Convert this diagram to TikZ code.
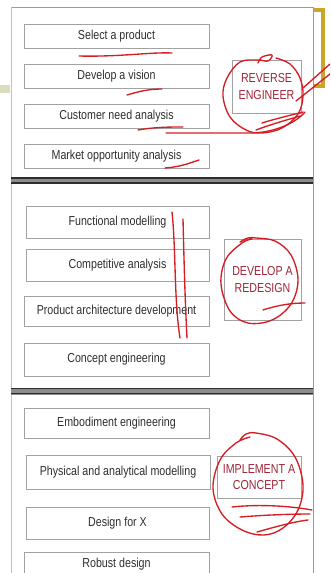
\documentclass[tikz,border=0pt]{standalone}
\usepackage{fontspec}
\setmainfont[FakeStretch=0.82]{Liberation Sans}
\begin{document}
\begin{tikzpicture}[x=1pt,y=-1pt,
  box/.style={draw=boxgray,line width=1pt,minimum width=185pt,inner sep=0pt,
    text=txtgray,font=\fontsize{13}{16.5}\selectfont},
  tag/.style={draw=boxgray,line width=0.9pt,inner sep=0pt,align=center,
    text=tagred,font=\fontsize{13}{16.5}\selectfont},
  ink/.style={draw=inkred,line width=1.35pt,line cap=round,line join=round},
  sep/.style={fill=sepgray,draw=none}]
\definecolor{boxgray}{HTML}{A2A2A2}
\definecolor{txtgray}{HTML}{2E2E2E}
\definecolor{tagred}{HTML}{9E2438}
\definecolor{inkred}{HTML}{D41E24}
\definecolor{sepgray}{HTML}{8C8C8C}
\definecolor{sepdark}{HTML}{2E2E2E}
\definecolor{framegray}{HTML}{9A9A9A}
\definecolor{gold}{HTML}{C9A62A}
\definecolor{olive}{HTML}{DCDCBE}
\useasboundingbox (0,0) rectangle (330,573);
\begin{scope}
\clip (0,0) rectangle (330,573);

% outer frame
\draw[framegray,line width=0.9pt] (11,573) -- (11,7) -- (313,7) -- (313,573);
\draw[framegray!60,line width=0.9pt] (11,7) -- (11,573);

% side decorations
\fill[olive] (0,85) rectangle (10,93);
\fill[gold] (314,8) rectangle (325,12);
\fill[gold] (321,8) rectangle (325,88);
\fill[gold] (314,84) rectangle (325,88);

% double separators between the three stages
\foreach \y in {177,387.5}{
  \fill[sepgray] (11,\y) rectangle (313,\y+7);
  \draw[sepdark,line width=1.5pt] (11,\y+1.2) -- (313,\y+1.2);
  \draw[sepdark,line width=1.5pt] (11,\y+5.8) -- (313,\y+5.8);
}

% stage 1
\node[box,minimum height=24pt] (b1) at (116.5,36) {Select a product};
\node[box,minimum height=24pt] (b2) at (116.5,76) {Develop a vision};
\node[box,minimum height=24pt] (b3) at (116.5,116) {Customer need analysis};
\node[box,minimum height=24pt] (b4) at (116.5,156) {Market opportunity analysis};
\node[tag,minimum width=69pt,minimum height=53pt] (r1) at (266.5,86.5) {REVERSE\\ENGINEER};

% stage 2
\node[box,minimum width=183pt,minimum height=32pt] (b5) at (117.5,222) {Functional modelling};
\node[box,minimum width=183pt,minimum height=32pt] (b6) at (117.5,265) {Competitive analysis};
\node[box,minimum height=30pt] (b7) at (116.5,311) {Product architecture development};
\node[box,minimum height=33pt] (b8) at (116.5,359.5) {Concept engineering};
\node[tag,minimum width=77pt,minimum height=81pt] (r2) at (262.5,279.5) {DEVELOP A\\REDESIGN};

% stage 3
\node[box,minimum height=30pt] (b9) at (116.5,423) {Embodiment engineering};
\node[box,minimum width=184pt,minimum height=34pt] (b10) at (118,472) {Physical and analytical modelling};
\node[box,minimum width=183pt,minimum height=32pt] (b11) at (117.5,523) {Design for X};
\node[box,minimum height=24pt,anchor=north] (b12) at (116.5,552) {};
\node[text=txtgray,font=\fontsize{13}{16.5}\selectfont] (b12t) at (116.5,564) {Robust design};
\node[tag,minimum width=84pt,minimum height=42pt] (r3) at (259,477) {IMPLEMENT A\\CONCEPT};

% pen marks, stage 1
\draw[ink] (79,56) .. controls (120,57) and (150,52) .. (172,53);
\draw[ink] (127,95) .. controls (140,91) and (150,89) .. (162,89);
\draw[ink] (138,130) .. controls (155,127) and (170,127) .. (183,127);
\draw[ink] (165,168) .. controls (180,167) and (190,163) .. (199,160);
\draw[ink] (166,133) -- (250,133) .. controls (272,133) and (295,124) .. (305,112);
\draw[ink] plot[smooth,tension=0.6] coordinates {(258,63) (262,57) (272,55) (268,61) (258,60)
  (240,62) (227,78) (223,96) (230,117) (246,130) (262,133) (282,128) (298,114) (303,96) (300,78) (290,64) (276,58)};
\draw[ink] (262,123) .. controls (278,118) and (292,115) .. (303,112);
\draw[ink] (256,130) .. controls (272,124) and (290,119) .. (300,116);
\draw[ink] (303,88) -- (330,64);
\draw[ink] (296,101) -- (330,74);

% pen marks, stage 2
\draw[ink] (172,212) .. controls (176,250) and (174,300) .. (180,338);
\draw[ink] (183,219) .. controls (184,260) and (185,300) .. (187,338);
\draw[ink] plot[smooth,tension=0.6] coordinates {(240,242) (248,238) (256,238)
  (275,241) (291,255) (298,280) (291,304) (272,320) (248,323) (230,311) (221,284) (226,259) (242,243) (252,239)};
\draw[ink] (263,310) .. controls (278,305) and (292,303) .. (305,303);

% pen marks, stage 3
\draw[ink] plot[smooth,tension=0.6] coordinates {(240,440) (246,434) (256,433)
  (277,439) (295,457) (303,485) (298,510) (283,528) (264,535) (242,530) (222,514) (213,488) (220,460) (236,443) (250,437)};
\draw[ink] (232,507) .. controls (260,504) and (290,506) .. (312,510);
\draw[ink] (240,517) .. controls (265,515) and (290,514) .. (310,514);
\draw[ink] (257,532) .. controls (275,527) and (292,522) .. (308,520);
\end{scope}
\end{tikzpicture}
\end{document}
